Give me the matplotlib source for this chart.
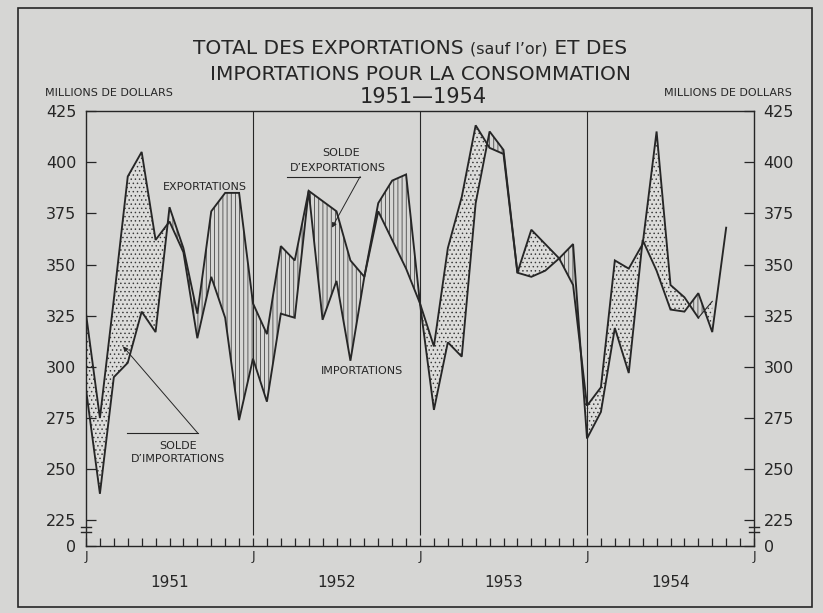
import numpy as np
import matplotlib.pyplot as plt
from matplotlib.patches import Rectangle

# monthly values, Jan 1951 .. Nov 1954 (millions de dollars)
exports = [289, 238, 295, 302, 327, 317, 378, 358, 326, 376, 385, 385,
           331, 316, 359, 352, 386, 381, 376, 352, 344, 380, 391, 394,
           331, 279, 312, 305, 380, 415, 406, 346, 344, 347, 353, 360,
           265, 278, 319, 297, 362, 347, 328, 327, 336, 317, 368]
imports = [326, 275, 333, 393, 405, 362, 371, 356, 314, 344, 324, 274,
           304, 283, 326, 324, 386, 323, 342, 303, 344, 376, 362, 348,
           331, 310, 358, 383, 418, 407, 404, 346, 367, 360, 353, 340,
           281, 290, 352, 348, 360, 415, 340, 334, 324, 332]

years = ["1951", "1952", "1953", "1954"]
y_ticks = [225, 250, 275, 300, 325, 350, 375, 400, 425]
zero_pos = 212.5  # where the broken axis puts 0

ink = "#262626"
paper = "#d6d6d4"

plt.rcParams["font.family"] = "DejaVu Sans"
plt.rcParams["hatch.linewidth"] = 0.55

fig = plt.figure(figsize=(8.23, 6.13), dpi=100, facecolor=paper)
ax = fig.add_axes([86 / 823, 1 - 546 / 613, 668 / 823, 435 / 613])
ax.set_facecolor(paper)

m_ex = np.arange(len(exports))
m_im = np.arange(len(imports))
ex = np.array(exports[:len(imports)], dtype=float)
im = np.array(imports, dtype=float)

# balance areas
ax.fill_between(m_im, ex, im, where=ex >= im, interpolate=True,
                facecolor="none", edgecolor="#3a3a3a", hatch="||||", linewidth=0)
ax.fill_between(m_im, ex, im, where=im >= ex, interpolate=True,
                facecolor="#dcdcda", edgecolor="#3a3a3a", hatch="....", linewidth=0)

# series
ax.plot(m_ex, exports, color=ink, lw=1.35, solid_joinstyle="miter")
ax.plot(m_im[:-1], imports[:-1], color=ink, lw=1.35, solid_joinstyle="miter")
ax.plot(m_im[-2:], imports[-2:], color=ink, lw=0.8)

# year separators
ax.vlines([12, 24, 36], 218, 425, color=ink, lw=0.8)

ax.set_xlim(0, 48)
ax.set_ylim(zero_pos, 425)

for s in ax.spines.values():
    s.set_color(ink)
    s.set_linewidth(1.0)

ax.set_yticks([zero_pos] + y_ticks)
ax.set_yticklabels(["0"] + [str(v) for v in y_ticks])
ax.tick_params(axis="y", which="both", direction="in", length=7, width=0.9,
               color=ink, labelcolor=ink, labelsize=11.5, pad=7,
               left=True, right=True, labelleft=True, labelright=True)

ax.set_xticks([0, 12, 24, 36, 48])
ax.set_xticklabels(["J"] * 5)
ax.set_xticks(np.arange(0, 49), minor=True)
ax.tick_params(axis="x", which="both", direction="in", length=6, width=0.9,
               color=ink, labelcolor=ink, labelsize=9, pad=3)

# axis break marks
for xb in (0, 48):
    for yb in (219.5, 221.8):
        ax.plot([xb - 0.35, xb + 0.35], [yb, yb], color=ink, lw=1.0,
                clip_on=False)

# year labels
for i, yr in enumerate(years):
    ax.text(12 * i + 6, -0.085, yr, transform=ax.get_xaxis_transform(),
            ha="center", va="center", fontsize=11, color=ink)

# annotations
ax.text(8.55, 388, "EXPORTATIONS", ha="center", va="center",
        fontsize=8, color=ink)
ax.text(19.8, 298, "IMPORTATIONS", ha="center", va="center",
        fontsize=8, color=ink)

ax.text(6.6, 261.5, "SOLDE", ha="center", va="center", fontsize=8, color=ink)
ax.text(6.6, 255, "D\u2019IMPORTATIONS", ha="center", va="center",
        fontsize=8, color=ink)
ax.plot([2.95, 8.05], [267.5, 267.5], color=ink, lw=0.8)
ax.annotate("", xy=(2.66, 310), xytext=(8.05, 267.5),
            arrowprops=dict(arrowstyle="-|>", color=ink, lw=0.7,
                            mutation_scale=7, shrinkA=0, shrinkB=0))

ax.text(18.3, 404.5, "SOLDE", ha="center", va="center", fontsize=8, color=ink)
ax.text(18.1, 397.3, "D\u2019EXPORTATIONS", ha="center", va="center",
        fontsize=8, color=ink)
ax.plot([14.45, 19.7], [393, 393], color=ink, lw=0.8)
ax.annotate("", xy=(17.67, 368), xytext=(19.7, 393),
            arrowprops=dict(arrowstyle="-|>", color=ink, lw=0.7,
                            mutation_scale=7, shrinkA=0, shrinkB=0))

# titles: first line mixes two sizes, laid out piece by piece
renderer = fig.canvas.get_renderer()
parts = [("TOTAL DES EXPORTATIONS ", 14.5), ("(sauf l\u2019or)", 11.5),
         (" ET DES", 14.5)]
y1 = 1 - 48 / 613
pieces = [fig.text(0, y1, t, ha="left", va="baseline", fontsize=fs, color=ink)
          for t, fs in parts]
widths = [p.get_window_extent(renderer).width for p in pieces]
x = 410 - sum(widths) / 2
for p, w in zip(pieces, widths):
    p.set_position((x / 823, 1 - 54 / 613))
    x += w

fig.text(421 / 823, 1 - 75 / 613, "IMPORTATIONS POUR LA CONSOMMATION",
         ha="center", va="center", fontsize=14.5, color=ink)
fig.text(423 / 823, 1 - 97 / 613, "1951\u20141954",
         ha="center", va="center", fontsize=15, color=ink)

fig.text(109 / 823, 1 - 93 / 613, "MILLIONS DE DOLLARS",
         ha="center", va="center", fontsize=8, color=ink)
fig.text(728 / 823, 1 - 93 / 613, "MILLIONS DE DOLLARS",
         ha="center", va="center", fontsize=8, color=ink)

# page frame
fig.add_artist(Rectangle((18 / 823, 1 - 607 / 613), 794 / 823, 599 / 613,
                         transform=fig.transFigure, fill=False,
                         edgecolor=ink, lw=1.2))

fig.savefig("out.png", dpi=100, facecolor=paper)
